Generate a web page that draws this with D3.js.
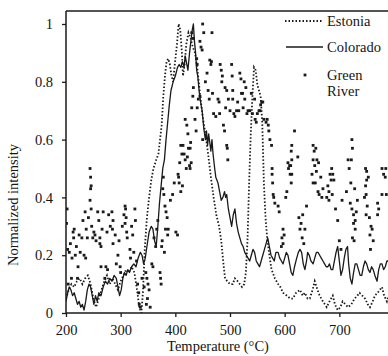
<!DOCTYPE html>
<html lang="en">
    <head>
        <meta charset="utf-8">
        <title>Normalized intensity vs temperature</title>
        <script type="text/javascript" src="https://cdn.jsdelivr.net/npm/d3@7"></script>
        <style>
            body { margin: 0; background: #fff; }
            svg text { font-family: "Liberation Serif", "DejaVu Serif", serif; fill: #151515; }
        </style>
    </head>
    <body>
        <script type="text/javascript">
            // Series as [temperature, normalized intensity]
            var estonia = [
                [200,0.05],[205,0.08],[210,0.1],[215,0.09],[220,0.11],[225,0.12],[230,0.1],[235,0.12],[240,0.13],[245,0.1],
                [250,0.05],[255,0.02],[260,0.05],[265,0.08],[270,0.11],[275,0.13],[280,0.1],[285,0.12],[290,0.1],[295,0.08],
                [300,0.11],[305,0.13],[310,0.15],[315,0.14],[320,0.16],[325,0.14],[330,0.08],[334,0.02],[338,0.0],[341,0.08],
                [344,0.22],[348,0.33],[352,0.4],[356,0.46],[360,0.5],[365,0.53],[369,0.55],[372,0.6],[375,0.65],[378,0.75],
                [381,0.82],[384,0.87],[387,0.88],[390,0.86],[393,0.82],[396,0.8],[399,0.86],[403,0.93],[406,1.0],[409,0.98],
                [412,0.9],[414,0.82],[417,0.86],[420,0.93],[424,0.97],[428,0.95],[432,0.92],[436,0.9],[440,0.85],[445,0.76],
                [450,0.68],[455,0.62],[460,0.55],[465,0.47],[470,0.4],[475,0.34],[480,0.3],[484,0.25],[488,0.17],[491,0.12],
                [495,0.11],[500,0.1],[505,0.1],[509,0.12],[514,0.11],[518,0.1],[522,0.09],[526,0.1],[529,0.14],[532,0.25],
                [535,0.45],[538,0.62],[541,0.75],[544,0.85],[547,0.84],[550,0.79],[553,0.77],[556,0.75],[559,0.66],[562,0.45],
                [565,0.33],[568,0.26],[572,0.2],[576,0.15],[582,0.12],[588,0.1],[592,0.09],[597,0.07],[604,0.06],[610,0.05],
                [615,0.05],[621,0.07],[628,0.08],[633,0.06],[637,0.07],[642,0.05],[646,0.05],[651,0.08],[655,0.11],[660,0.08],
                [664,0.06],[670,0.04],[677,0.02],[682,0.04],[688,0.06],[692,0.03],[697,0.01],[702,0.02],[706,0.04],[711,0.03],
                [716,0.02],[722,0.03],[728,0.05],[733,0.06],[737,0.07],[742,0.06],[747,0.05],[752,0.03],[756,0.02],[761,0.04],
                [765,0.06],[770,0.07],[774,0.08],[778,0.09],[782,0.06],[787,0.04],[790,0.06]
            ];

            var colorado = [
                [200,0.04],[203,0.07],[206,0.09],[209,0.08],[212,0.06],[215,0.07],[218,0.05],[221,0.03],[224,0.04],[227,0.02],
                [230,0.03],[233,0.01],[236,0.04],[239,0.08],[242,0.1],[245,0.09],[248,0.06],[251,0.03],[254,0.06],[257,0.04],
                [260,0.07],[264,0.06],[268,0.09],[272,0.11],[276,0.1],[280,0.12],[284,0.11],[288,0.13],[292,0.12],[295,0.09],
                [298,0.06],[301,0.08],[304,0.12],[307,0.14],[310,0.13],[313,0.15],[316,0.14],[320,0.16],[324,0.17],[328,0.16],
                [332,0.19],[336,0.21],[339,0.2],[342,0.17],[345,0.19],[348,0.23],[352,0.28],[356,0.3],[359,0.29],[362,0.25],
                [365,0.23],[368,0.3],[371,0.38],[374,0.44],[377,0.5],[380,0.53],[383,0.6],[386,0.66],[389,0.72],[392,0.77],
                [396,0.8],[400,0.82],[404,0.85],[407,0.86],[410,0.85],[413,0.87],[416,0.85],[418,0.89],[421,0.86],[423,0.84],
                [426,0.9],[429,0.95],[431,0.98],[433,1.0],[435,0.94],[437,0.9],[439,0.84],[441,0.82],[444,0.76],[447,0.72],
                [449,0.7],[452,0.64],[455,0.6],[457,0.63],[459,0.58],[461,0.62],[463,0.59],[465,0.56],[467,0.6],[469,0.55],
                [472,0.5],[474,0.47],[476,0.46],[478,0.45],[481,0.42],[484,0.39],[487,0.4],[490,0.42],[492,0.4],[494,0.41],
                [497,0.36],[500,0.33],[503,0.3],[506,0.34],[509,0.36],[512,0.31],[515,0.28],[518,0.26],[521,0.24],[524,0.23],
                [527,0.21],[530,0.2],[533,0.19],[536,0.18],[539,0.2],[542,0.22],[545,0.21],[548,0.18],[551,0.17],[554,0.16],
                [557,0.18],[560,0.2],[563,0.22],[566,0.24],[569,0.26],[572,0.23],[575,0.2],[578,0.19],[581,0.18],[584,0.21],
                [588,0.21],[591,0.19],[594,0.18],[597,0.17],[600,0.19],[603,0.21],[606,0.2],[609,0.17],[612,0.14],[615,0.13],
                [618,0.16],[622,0.19],[625,0.21],[628,0.22],[631,0.21],[634,0.17],[637,0.15],[640,0.18],[642,0.21],[645,0.2],
                [648,0.18],[652,0.17],[655,0.19],[658,0.21],[661,0.21],[664,0.2],[667,0.19],[670,0.18],[673,0.17],[676,0.16],
                [679,0.16],[682,0.17],[685,0.15],[688,0.15],[691,0.18],[694,0.21],[697,0.23],[700,0.18],[703,0.13],[706,0.15],
                [709,0.19],[712,0.22],[715,0.23],[717,0.17],[720,0.12],[723,0.1],[726,0.14],[729,0.17],[732,0.17],[735,0.15],
                [738,0.13],[741,0.13],[744,0.16],[747,0.18],[750,0.17],[753,0.15],[756,0.14],[759,0.16],[762,0.15],[765,0.13],
                [769,0.11],[772,0.15],[775,0.17],[778,0.17],[781,0.15],[784,0.16],[787,0.18],[790,0.18]
            ];

            var greenRiver = [
                [201,0.31],[202,0.36],[203,0.22],[204,0.1],[206,0.21],[208,0.24],[210,0.12],[211,0.19],[213,0.28],[214,0.26],
                [215,0.29],[217,0.2],[219,0.23],[221,0.12],[222,0.16],[224,0.27],[226,0.21],[229,0.26],[231,0.32],[233,0.2],
                [235,0.35],[236,0.19],[237,0.29],[239,0.26],[241,0.33],[244,0.5],[245,0.47],[246,0.44],[245,0.43],[244,0.39],
                [246,0.36],[247,0.3],[249,0.26],[251,0.28],[253,0.27],[255,0.25],[258,0.35],[260,0.32],[262,0.26],[262,0.24],
                [264,0.23],[266,0.29],[268,0.35],[264,0.16],[271,0.12],[273,0.16],[276,0.15],[275,0.28],[278,0.34],[281,0.3],
                [284,0.35],[286,0.32],[285,0.29],[286,0.24],[290,0.27],[292,0.17],[295,0.2],[297,0.25],[299,0.16],[300,0.14],
                [303,0.3],[306,0.34],[308,0.37],[309,0.36],[310,0.33],[311,0.28],[312,0.26],[308,0.31],[317,0.22],[318,0.19],
                [320,0.3],[322,0.27],[326,0.36],[327,0.32],[324,0.21],[329,0.18],[331,0.1],[333,0.07],[334,0.03],[336,0.02],
                [339,0.12],[343,0.09],[346,0.14],[348,0.12],[350,0.1],[352,0.08],[349,0.05],[347,0.03],[354,0.02],[357,0.17],
                [359,0.16],[361,0.26],[364,0.23],[366,0.29],[368,0.32],[372,0.14],[373,0.12],[374,0.1],[375,0.23],[376,0.25],
                [377,0.43],[378,0.47],[379,0.41],[381,0.37],[383,0.35],[385,0.33],[387,0.29],[386,0.27],[382,0.29],[380,0.21],
                [391,0.39],[395,0.41],[398,0.45],[401,0.28],[404,0.27],[405,0.48],[406,0.47],[407,0.45],[408,0.52],[410,0.42],
                [410,0.58],[412,0.55],[413,0.44],[414,0.58],[416,0.55],[418,0.53],[420,0.5],[422,0.54],[424,0.57],[426,0.51],
                [427,0.5],[428,0.59],[429,0.52],[418,0.67],[421,0.65],[423,0.62],[427,0.57],[430,0.71],[432,0.75],[433,0.78],
                [430,0.97],[433,0.95],[436,0.67],[438,0.63],[439,0.88],[440,0.86],[445,0.94],[447,0.92],[450,1.0],[452,0.97],
                [449,0.91],[445,0.75],[442,0.74],[440,0.71],[450,0.6],[455,0.8],[458,0.83],[460,0.77],[463,0.875],[465,0.86],
                [467,0.97],[466,0.87],[462,0.74],[468,0.76],[470,0.69],[474,0.68],[478,0.74],[480,0.73],[481,0.69],[482,0.86],
                [484,0.84],[486,0.82],[485,0.8],[488,0.65],[490,0.63],[491,0.78],[492,0.71],[494,0.58],[495,0.57],[496,0.53],
                [494,0.77],[497,0.74],[500,0.7],[503,0.86],[504,0.82],[505,0.77],[505,0.74],[507,0.69],[509,0.68],[512,0.7],
                [514,0.73],[516,0.7],[518,0.83],[520,0.81],[521,0.76],[523,0.76],[524,0.71],[526,0.8],[527,0.74],[529,0.78],
                [531,0.69],[533,0.7],[536,0.7],[539,0.76],[541,0.69],[545,0.74],[546,0.67],[548,0.66],[550,0.69],[553,0.7],
                [555,0.7],[556,0.72],[558,0.73],[560,0.73],[562,0.67],[566,0.66],[568,0.67],[570,0.65],[571,0.63],[573,0.6],
                [576,0.58],[577,0.5],[577,0.48],[578,0.45],[579,0.41],[580,0.4],[582,0.38],[588,0.37],[590,0.35],[597,0.29],
                [599,0.27],[595,0.26],[597,0.24],[594,0.23],[604,0.42],[602,0.4],[606,0.52],[609,0.51],[607,0.5],[610,0.48],
                [612,0.45],[613,0.58],[612,0.56],[613,0.53],[611,0.51],[613,0.48],[618,0.63],[624,0.54],[626,0.33],[630,0.31],
                [628,0.29],[633,0.34],[637,0.29],[640,0.37],[632,0.26],[635,0.24],[652,0.58],[654,0.56],[657,0.57],[659,0.53],
                [662,0.52],[652,0.53],[655,0.51],[658,0.49],[652,0.45],[650,0.48],[656,0.45],[666,0.47],[661,0.42],[663,0.41],
                [668,0.4],[670,0.43],[679,0.44],[681,0.42],[683,0.48],[685,0.46],[677,0.4],[681,0.39],[687,0.41],[686,0.5],
                [688,0.48],[690,0.46],[693,0.36],[697,0.32],[700,0.25],[703,0.22],[705,0.39],[713,0.42],[716,0.53],[718,0.5],
                [721,0.45],[723,0.6],[724,0.57],[722,0.53],[720,0.38],[723,0.36],[726,0.34],[729,0.32],[731,0.35],[726,0.31],
                [729,0.29],[728,0.43],[733,0.39],[724,0.26],[727,0.25],[748,0.5],[750,0.46],[748,0.44],[749,0.41],[746,0.4],
                [751,0.37],[755,0.33],[749,0.34],[758,0.3],[760,0.29],[756,0.27],[762,0.25],[757,0.22],[750,0.49],[753,0.47],
                [770,0.38],[772,0.36],[770,0.34],[778,0.5],[781,0.48],[784,0.47],[786,0.41],[778,0.41],[785,0.5]
            ];

            var xTicks = [200, 300, 400, 500, 600, 700];
            var yTicks = [0, 0.2, 0.4, 0.6, 0.8, 1];
            var legendNames = ["Estonia", "Colorado", "Green River"];

            //Width and height
            var w = 388;
            var h = 356;
            var plotLeft = 66, plotRight = 394, plotTop = 24, plotBottom = 313, frameTop = 11;
            var ink = "#1a1a1a";
            var fontSize = "14.5px";

            var xScale = d3.scaleLinear().domain([200, 800]).range([plotLeft, plotRight]);
            var yScale = d3.scaleLinear().domain([0, 1]).range([plotBottom, plotTop]);

            var svg = d3.select("body")
                        .append("svg")
                        .attr("width", w)
                        .attr("height", h);

            svg.append("clipPath").attr("id", "plot")
               .append("rect")
               .attr("x", plotLeft).attr("y", frameTop)
               .attr("width", w - plotLeft).attr("height", plotBottom - frameTop);

            var line = d3.line()
                         .x(function(d){ return xScale(d[0]); })
                         .y(function(d){ return yScale(d[1]); });

            var marks = svg.append("g").attr("clip-path", "url(#plot)");

            // Estonia - dotted
            marks.append("path")
                 .datum(estonia)
                 .attr("d", line)
                 .attr("fill", "none")
                 .attr("stroke", ink)
                 .attr("stroke-width", 1.8)
                 .attr("stroke-dasharray", "1.5,2");

            // Colorado - solid
            marks.append("path")
                 .datum(colorado)
                 .attr("d", line)
                 .attr("fill", "none")
                 .attr("stroke", ink)
                 .attr("stroke-width", 1.3)
                 .attr("stroke-linejoin", "round");

            // Green River - small squares
            marks.selectAll("rect.gr")
                 .data(greenRiver)
                 .enter()
                 .append("rect")
                 .attr("class", "gr")
                 .attr("x", function(d){ return xScale(d[0]) - 1.4; })
                 .attr("y", function(d){ return yScale(d[1]) - 1.4; })
                 .attr("width", 2.8)
                 .attr("height", 2.8)
                 .attr("fill", ink);

            // axes
            var xAxis = d3.axisBottom(xScale).tickValues(xTicks).tickSize(4).tickPadding(8).tickFormat(d3.format("d"));
            var yAxis = d3.axisLeft(yScale).tickValues(yTicks).tickSize(4).tickPadding(9).tickFormat(function(d){ return d === 0 || d === 1 ? String(d) : d.toFixed(1); });

            var gx = svg.append("g").attr("transform", "translate(0," + plotBottom + ")").call(xAxis);
            var gy = svg.append("g").attr("transform", "translate(" + plotLeft + ",0)").call(yAxis);

            [gx, gy].forEach(function(g){
                g.select(".domain").remove();
                g.selectAll(".tick line").attr("stroke", ink).attr("stroke-width", 1.3);
                g.selectAll(".tick text").attr("font-size", fontSize).attr("fill", ink)
                 .style("font-family", "'Liberation Serif', serif");
            });

            // frame: left, bottom and top edges
            svg.append("line").attr("x1", plotLeft).attr("x2", plotLeft).attr("y1", frameTop).attr("y2", plotBottom)
               .attr("stroke", ink).attr("stroke-width", 1.5);
            svg.append("line").attr("x1", plotLeft).attr("x2", w).attr("y1", plotBottom).attr("y2", plotBottom)
               .attr("stroke", ink).attr("stroke-width", 1.5);
            svg.append("line").attr("x1", plotLeft).attr("x2", w).attr("y1", frameTop).attr("y2", frameTop)
               .attr("stroke", ink).attr("stroke-width", 1.5);

            // axis titles
            svg.append("text")
               .attr("x", 218).attr("y", 351)
               .attr("text-anchor", "middle")
               .attr("font-size", fontSize)
               .text("Temperature (°C)");

            svg.append("text")
               .attr("transform", "translate(18,205) rotate(-90)")
               .attr("text-anchor", "middle")
               .attr("font-size", fontSize)
               .text("Normalized intensity");

            // legend
            var lg = svg.append("g");
            lg.append("line").attr("x1", 285).attr("x2", 323).attr("y1", 21).attr("y2", 21)
              .attr("stroke", ink).attr("stroke-width", 1.8).attr("stroke-dasharray", "1.5,2");
            lg.append("line").attr("x1", 286).attr("x2", 323).attr("y1", 47).attr("y2", 47)
              .attr("stroke", ink).attr("stroke-width", 1.3);
            lg.append("rect").attr("x", 303.6).attr("y", 73.6).attr("width", 2.8).attr("height", 2.8).attr("fill", ink);

            lg.append("text").attr("x", 327).attr("y", 26).attr("font-size", fontSize).text(legendNames[0]);
            lg.append("text").attr("x", 327).attr("y", 52).attr("font-size", fontSize).text(legendNames[1]);
            var gr = lg.append("text").attr("x", 327).attr("y", 80).attr("font-size", fontSize);
            gr.append("tspan").attr("x", 327).text(legendNames[2].split(" ")[0]);
            gr.append("tspan").attr("x", 327).attr("dy", 16).text(legendNames[2].split(" ")[1]);
        </script>
    </body>
</html>
